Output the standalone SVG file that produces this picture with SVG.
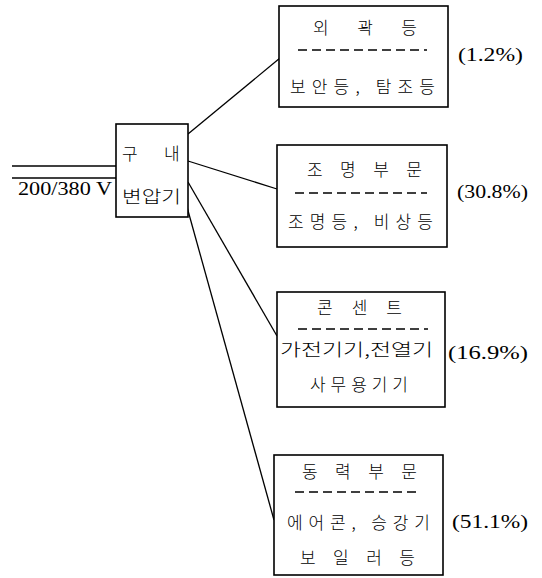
<svg xmlns="http://www.w3.org/2000/svg" width="542" height="578" viewBox="0 0 542 578">
<style>
.box{fill:#fff;stroke:#000;stroke-width:1.6}
.ln{fill:none;stroke:#000;stroke-width:1.3}
.dash{fill:none;stroke:#000;stroke-width:1.5;stroke-dasharray:9 5}
.k{font-family:"Noto Sans CJK KR","Noto Sans",sans-serif;font-size:17px;font-weight:300;fill:#000}
.n{font-family:"Liberation Serif",serif;font-size:18px;fill:#000}
</style>
<rect width="542" height="578" fill="#fff"/>
<g id="connectors">
<line class="ln" x1="12" y1="166" x2="116" y2="166"/>
<line class="ln" x1="12" y1="178" x2="116" y2="178"/>
<line class="ln" x1="188" y1="134" x2="280" y2="58"/>
<line class="ln" x1="188" y1="161" x2="277" y2="189"/>
<line class="ln" x1="188" y1="182" x2="277" y2="336"/>
<line class="ln" x1="187" y1="207" x2="274" y2="520"/>
</g>
<g id="source">
<text class="n" x="18" y="195" textLength="94" lengthAdjust="spacingAndGlyphs">200/380 V</text>
</g>
<g id="transformer">
<rect class="box" x="116" y="124" width="72" height="93"/>
<text class="k" x="122" y="160">구</text>
<text class="k" x="164" y="160">내</text>
<text class="k" x="122" y="203" textLength="59" lengthAdjust="spacingAndGlyphs">변압기</text>
</g>
<g id="node1">
<rect class="box" x="279" y="6" width="169" height="101"/>
<text class="k" x="313" y="34" textLength="104" lengthAdjust="spacing">외 곽 등</text>
<line class="dash" x1="298" y1="50" x2="427" y2="50"/>
<text class="k" x="290" y="93" textLength="145" lengthAdjust="spacing">보안등, 탐조등</text>
<text class="n" x="458" y="61" textLength="65" lengthAdjust="spacingAndGlyphs">(1.2%)</text>
</g>
<g id="node2">
<rect class="box" x="277" y="145" width="170" height="102"/>
<text class="k" x="307" y="176" textLength="115" lengthAdjust="spacing">조 명 부 문</text>
<line class="dash" x1="295" y1="193" x2="427" y2="193"/>
<text class="k" x="288" y="228" textLength="145" lengthAdjust="spacing">조명등, 비상등</text>
<text class="n" x="457" y="198" textLength="71" lengthAdjust="spacingAndGlyphs">(30.8%)</text>
</g>
<g id="node3">
<rect class="box" x="277" y="292" width="168" height="115"/>
<text class="k" x="317" y="314" textLength="85" lengthAdjust="spacing">콘 센 트</text>
<line class="dash" x1="298" y1="329" x2="428" y2="329"/>
<text class="k" x="280" y="356" textLength="153" lengthAdjust="spacingAndGlyphs">가전기기,전열기</text>
<text class="k" x="310" y="391" textLength="98" lengthAdjust="spacing">사무용기기</text>
<text class="n" x="448" y="359" textLength="80" lengthAdjust="spacingAndGlyphs">(16.9%)</text>
</g>
<g id="node4">
<rect class="box" x="274" y="455" width="169" height="120"/>
<text class="k" x="302" y="478" textLength="115" lengthAdjust="spacing">동 력 부 문</text>
<line class="dash" x1="295" y1="492" x2="417" y2="492"/>
<text class="k" x="287" y="529" textLength="143" lengthAdjust="spacing">에어콘, 승강기</text>
<text class="k" x="300" y="564" textLength="115" lengthAdjust="spacing">보 일 러 등</text>
<text class="n" x="452" y="528" textLength="76" lengthAdjust="spacingAndGlyphs">(51.1%)</text>
</g>
</svg>
